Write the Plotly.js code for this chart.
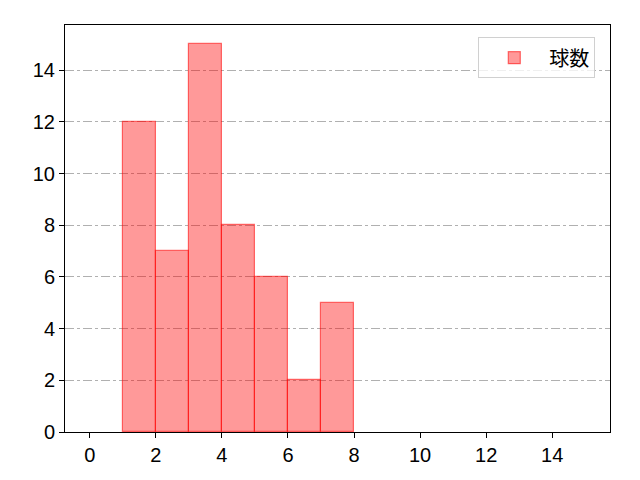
<!DOCTYPE html>
<html>
<head>
<meta charset="utf-8">
<script src="https://cdn.plot.ly/plotly-3.0.1.min.js"></script>
<style>body{margin:0}#chart{width:640px;height:480px}</style>
</head>
<body>
<div id="chart"></div>
<script>
// histogram bins (left edges) and counts
var binLeft = [1, 2, 3, 4, 5, 6, 7]
var counts = [12, 7, 15, 8, 6, 2, 5]
var xTicks = [0, 2, 4, 6, 8, 10, 12, 14]
var yTicks = [0, 2, 4, 6, 8, 10, 12, 14]
var seriesName = '球数'

var centers = binLeft.map(function(b) { return b + 0.5 })
var tickFont = 'Liberation Sans, Arial, sans-serif'
var jpFont = 'Noto Sans CJK JP, sans-serif'

var trace = {
    x: centers,
    y: counts,
    width: 1,
    type: 'bar',
    name: seriesName,
    marker: {
        color: 'rgba(255,0,0,0.4)',
        line: {color: 'rgba(255,0,0,0.55)', width: 1.2}
    }
}

var layout = {
    width: 640,
    height: 480,
    margin: {l: 65, r: 30, t: 25, b: 48},
    paper_bgcolor: 'white',
    plot_bgcolor: 'white',
    font: {family: tickFont, size: 20, color: '#000'},
    showlegend: true,
    bargap: 0,
    xaxis: {
        range: [-0.75, 15.75],
        tickvals: xTicks,
        ticks: 'outside', ticklen: 5, tickcolor: '#000',
        showline: true, linecolor: '#000', linewidth: 1, mirror: true,
        showgrid: false, zeroline: false
    },
    yaxis: {
        range: [0, 15.75],
        tickvals: yTicks,
        ticks: 'outside', ticklen: 5, tickcolor: '#000',
        showline: true, linecolor: '#000', linewidth: 1, mirror: true,
        showgrid: true, gridcolor: '#b0b0b0', griddash: 'dashdot', gridwidth: 1,
        zeroline: false
    },
    legend: {
        x: 0.973, y: 0.97, xanchor: 'right', yanchor: 'top',
        bordercolor: '#d0d0d0', borderwidth: 1, bgcolor: 'rgba(255,255,255,0.8)',
        font: {family: jpFont, size: 20},
        itemwidth: 60,
        entrywidth: 130
    }
}

Plotly.newPlot('chart', [trace], layout, {displayModeBar: false})
</script>
</body>
</html>
